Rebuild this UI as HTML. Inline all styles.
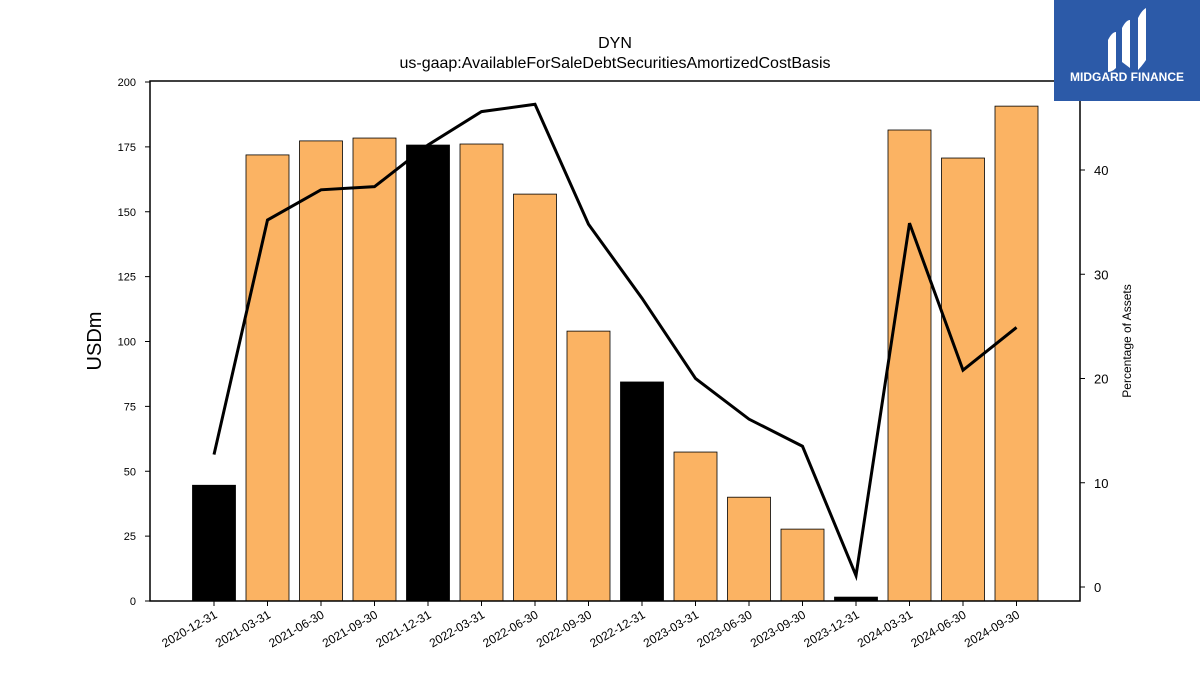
<!DOCTYPE html>
<html><head><meta charset="utf-8"><style>
body{margin:0;background:#fff;width:1200px;height:675px;overflow:hidden;font-family:"Liberation Sans","DejaVu Sans",sans-serif}
</style></head><body>
<svg id="chart" width="1200" height="675" xmlns="http://www.w3.org/2000/svg">
<text x="615" y="48" text-anchor="middle" font-size="16">DYN</text>
<text x="615" y="68" text-anchor="middle" font-size="16">us-gaap:AvailableForSaleDebtSecuritiesAmortizedCostBasis</text>
<text transform="translate(101,341) rotate(-90)" text-anchor="middle" font-size="20">USDm</text>
<text transform="translate(1131,341) rotate(-90)" text-anchor="middle" font-size="12">Percentage of Assets</text>
<g id="bars"></g><g id="line"></g><g id="axes"></g>
<g>
<rect x="1054" y="0" width="146" height="101" fill="#2c5aa8"/>
<path d="M1108 40 q4-8 8-8 v36 q-4 4-8 4z M1122 28 q4-8 8-8 v48 l-8-6z M1138 18 q4-8 8-10 v52 q-4 6-8 10z" fill="#fff"/>
<text x="1127" y="81" text-anchor="middle" font-size="12" font-weight="bold" fill="#fff">MIDGARD FINANCE</text>
</g>
</svg>
<script>
const categories=["2020-12-31","2021-03-31","2021-06-30","2021-09-30","2021-12-31","2022-03-31","2022-06-30","2022-09-30","2022-12-31","2023-03-31","2023-06-30","2023-09-30","2023-12-31","2024-03-31","2024-06-30","2024-09-30"];
const values=[44.6,171.9,177.3,178.4,175.7,176.1,156.8,104,84.4,57.4,40,27.7,1.5,181.5,170.7,190.7];
const pct=[12.7,35.2,38.1,38.4,42.4,45.6,46.3,34.8,27.7,20.0,16.1,13.5,1.1,34.9,20.8,24.9];
const leftTicks=[0,25,50,75,100,125,150,175,200];
const rightTicks=[0,10,20,30,40];
const NS="http://www.w3.org/2000/svg";
const L=150,R=1080,T=81,B=601;
const x=i=>214+i*53.5;
const y=v=>601-v*2.595;
const y2=v=>587-v*10.425;
function mk(tag,attrs,parent){const e=document.createElementNS(NS,tag);for(const k in attrs)e.setAttribute(k,attrs[k]);document.getElementById(parent).appendChild(e);return e;}
values.forEach((v,i)=>{
 const q4=categories[i].endsWith("12-31");
 const r=mk("rect",{x:x(i)-21.5,y:y(v),width:43,height:B-y(v),fill:q4?"#000":"#fbb363",stroke:"#000","stroke-width":0.8},"bars");
 
 
});
const pl=mk("polyline",{points:pct.map((p,i)=>x(i)+","+y2(p)).join(" "),fill:"none",stroke:"#000","stroke-width":3},"line");


const fr=mk("rect",{x:L,y:T,width:R-L,height:B-T,fill:"none",stroke:"#000","stroke-width":1.5},"axes");


leftTicks.forEach(t=>{
 mk("line",{x1:L-5,x2:L,y1:y(t),y2:y(t),stroke:"#000"},"axes");
 const tx=mk("text",{x:L-14,y:y(t)+4,"text-anchor":"end","font-size":11},"axes");tx.textContent=t;
 
 
});
rightTicks.forEach(t=>{
 mk("line",{x1:R,x2:R+5,y1:y2(t),y2:y2(t),stroke:"#000"},"axes");
 const tx=mk("text",{x:R+14,y:y2(t)+5,"font-size":13},"axes");tx.textContent=t;
 
 
});
categories.forEach((c,i)=>{
 mk("line",{x1:x(i),x2:x(i),y1:B,y2:B+5,stroke:"#000"},"axes");
 const tx=mk("text",{transform:`translate(${x(i)+4},${B+16}) rotate(-30)`,"text-anchor":"end","font-size":12},"axes");tx.textContent=c;
 
 
});
</script>
</body></html>
